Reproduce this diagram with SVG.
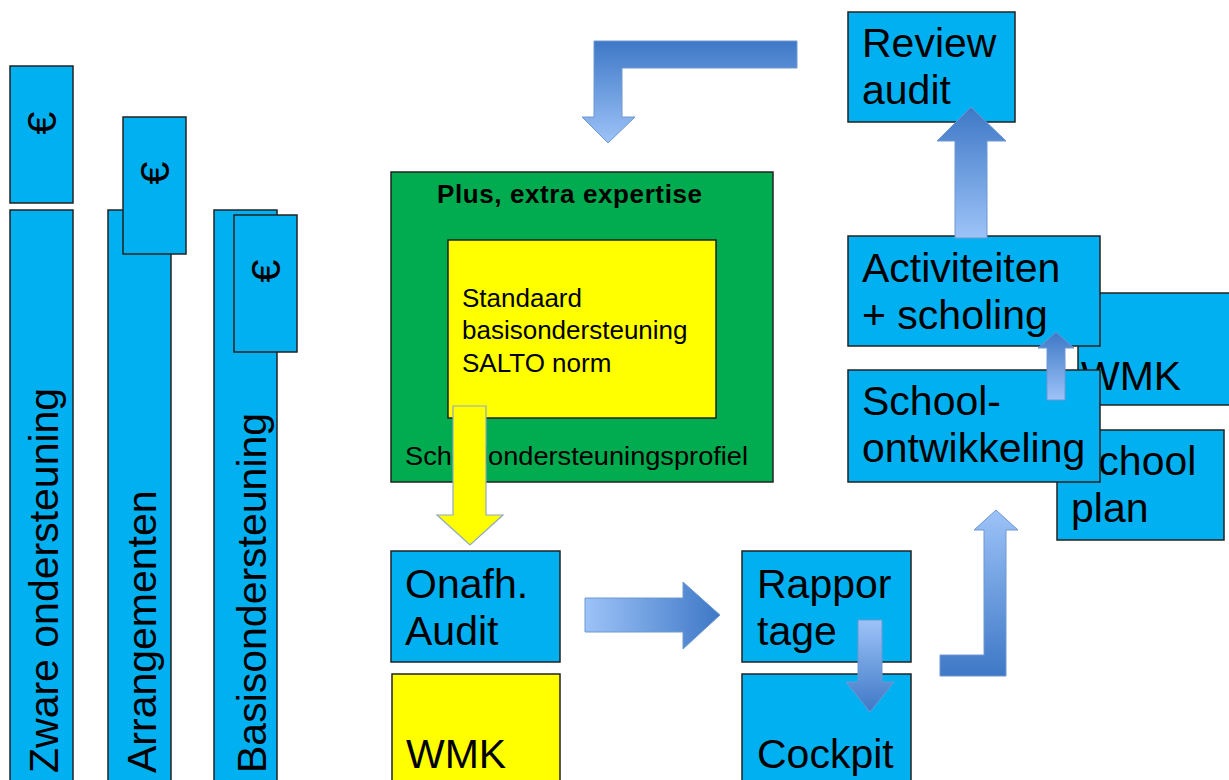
<svg xmlns="http://www.w3.org/2000/svg" width="1229" height="780" viewBox="0 0 1229 780">
<style>
.b{fill:#00B0F0;stroke:#222;stroke-width:1.5}
.y{fill:#FFFF00;stroke:#222;stroke-width:1.5}
.t{font-family:"Liberation Sans",Arial,sans-serif;font-size:41px;fill:#000}
.s{font-family:"Liberation Sans",Arial,sans-serif;font-size:26px;fill:#000}
.arr{stroke:#6E98D2;stroke-width:1}
</style>
<defs>
<linearGradient id="gTop" gradientUnits="userSpaceOnUse" x1="0" y1="41" x2="0" y2="143"><stop offset="0" stop-color="#3E78C6"/><stop offset="1" stop-color="#9DC3F8"/></linearGradient>
<linearGradient id="gRight" gradientUnits="userSpaceOnUse" x1="585" y1="0" x2="720" y2="0"><stop offset="0" stop-color="#9DC3F8"/><stop offset="1" stop-color="#3E78C6"/></linearGradient>
<linearGradient id="gDown" gradientUnits="userSpaceOnUse" x1="0" y1="620" x2="0" y2="712"><stop offset="0" stop-color="#9DC3F8"/><stop offset="1" stop-color="#3E78C6"/></linearGradient>
<linearGradient id="gL" gradientUnits="userSpaceOnUse" x1="0" y1="510" x2="0" y2="676"><stop offset="0" stop-color="#9DC3F8"/><stop offset="1" stop-color="#3E78C6"/></linearGradient>
<linearGradient id="gUp" gradientUnits="userSpaceOnUse" x1="0" y1="107" x2="0" y2="238"><stop offset="0" stop-color="#3E78C6"/><stop offset="1" stop-color="#9DC3F8"/></linearGradient>
<linearGradient id="gUp2" gradientUnits="userSpaceOnUse" x1="0" y1="332" x2="0" y2="400"><stop offset="0" stop-color="#3E78C6"/><stop offset="1" stop-color="#9DC3F8"/></linearGradient>
</defs>

<g id="bar-zware">
<rect class="b" x="10" y="210" width="63" height="580"/>
<text class="t" font-size="41.5" transform="translate(58,773) rotate(-90)">Zware ondersteuning</text>
</g>
<g id="euro-zware">
<rect class="b" x="10" y="66" width="63" height="137"/>
<text class="t" font-size="40" text-anchor="middle" transform="translate(42,123) rotate(-90)" y="14">€</text>
</g>
<g id="bar-arrangementen">
<rect class="b" x="108" y="210" width="63" height="580"/>
<text class="t" font-size="41.5" transform="translate(156,773) rotate(-90)">Arrangementen</text>
</g>
<g id="euro-arrangementen">
<rect class="b" x="123" y="117" width="63" height="137"/>
<text class="t" font-size="40" text-anchor="middle" transform="translate(155,173) rotate(-90)" y="14">€</text>
</g>
<g id="bar-basis">
<rect class="b" x="214" y="210" width="63" height="580"/>
<text class="t" font-size="41.5" transform="translate(266,773) rotate(-90)">Basisondersteuning</text>
</g>
<g id="euro-basis">
<rect class="b" x="234" y="215" width="63" height="137"/>
<text class="t" font-size="40" text-anchor="middle" transform="translate(266,271) rotate(-90)" y="14">€</text>
</g>

<g id="profiel">
<rect x="391" y="172" width="382" height="310" fill="#00AC4F" stroke="#222" stroke-width="1.5"/>
<text class="s" x="437" y="203" font-weight="bold" font-size="26" textLength="265" lengthAdjust="spacing">Plus, extra expertise</text>
<text class="s" x="405" y="465" textLength="343" lengthAdjust="spacingAndGlyphs">Schoolondersteuningsprofiel</text>
</g>
<g id="standaard">
<rect class="y" x="448" y="240" width="268" height="178"/>
<text class="s" font-size="27.3"><tspan x="462" y="307">Standaard</tspan><tspan x="462" y="339">basisondersteuning</tspan><tspan x="462" y="372">SALTO norm</tspan></text>
</g>

<g id="onafh-audit">
<rect class="b" x="391" y="551" width="169" height="111"/>
<text class="t"><tspan x="405" y="598">Onafh.</tspan><tspan x="405" y="645">Audit</tspan></text>
</g>
<g id="wmk-yellow">
<rect class="y" x="392" y="674" width="168" height="120"/>
<text class="t" x="406" y="768">WMK</text>
</g>
<g id="rapportage">
<rect class="b" x="742" y="551" width="169" height="111"/>
<text class="t"><tspan x="757" y="598">Rappor</tspan><tspan x="757" y="645">tage</tspan></text>
</g>
<g id="cockpit">
<rect class="b" x="742" y="674" width="169" height="120"/>
<text class="t" x="757" y="768">Cockpit</text>
</g>

<g id="review-audit">
<rect class="b" x="848" y="12" width="167" height="110"/>
<text class="t"><tspan x="862" y="57">Review</tspan><tspan x="862" y="104">audit</tspan></text>
</g>
<g id="wmk-right">
<rect class="b" x="1078" y="293" width="160" height="112"/>
<text class="t" x="1081" y="390">WMK</text>
</g>
<g id="schoolplan">
<rect class="b" x="1057" y="430" width="167" height="110"/>
<text class="t"><tspan x="1071" y="475">School</tspan><tspan x="1071" y="522">plan</tspan></text>
</g>
<g id="activiteiten">
<rect class="b" x="848" y="236" width="252" height="110"/>
<text class="t"><tspan x="862" y="282">Activiteiten</tspan><tspan x="862" y="329">+ scholing</tspan></text>
</g>
<g id="schoolontwikkeling">
<rect class="b" x="848" y="370" width="252" height="112"/>
<text class="t"><tspan x="862" y="415">School-</tspan><tspan x="862" y="462">ontwikkeling</tspan></text>
</g>

<g id="connectors">
<path class="arr" fill="url(#gTop)" d="M797,41 L594,41 L594,117 L582,117 L608,143 L635,117 L622,117 L622,68 L797,68 Z"/>
<path fill="#FFFF00" stroke="#8FA8C8" stroke-width="1.2" d="M453,406 L486,406 L486,515 L503,515 L470,545 L437,515 L453,515 Z"/>
<path class="arr" fill="url(#gRight)" d="M585,598 L683,598 L683,582 L720,615 L683,649 L683,632 L585,632 Z"/>
<path class="arr" fill="url(#gDown)" d="M858,620 L882,620 L882,682 L894,682 L870,712 L846,682 L858,682 Z"/>
<path class="arr" fill="url(#gL)" d="M940,655 L984,655 L984,530 L974,530 L996,510 L1018,530 L1006,530 L1006,676 L940,676 Z"/>
<path class="arr" fill="url(#gUp)" d="M955,238 L955,141 L937,141 L971,107 L1006,141 L987,141 L987,238 Z"/>
<path class="arr" fill="url(#gUp2)" d="M1047,400 L1047,348 L1038,348 L1056,332 L1074,348 L1065,348 L1065,400 Z"/>
</g>
</svg>
